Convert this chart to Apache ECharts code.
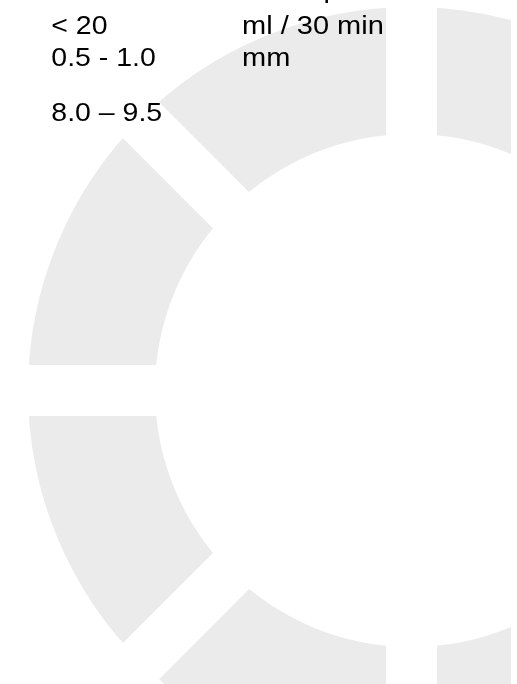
<!DOCTYPE html>
<html>
<head>
<meta charset="utf-8">
<script src="https://cdn.jsdelivr.net/npm/echarts@6/dist/echarts.min.js"></script>
<style>
  html, body { margin: 0; padding: 0; background: #fff; }
  #ring { width: 511px; height: 684px; }
</style>
</head>
<body>
<div id="ring"></div>
<script>
// ring segments (8 equal parts, gaps at every 45 deg)
const segments = ['s1', 's2', 's3', 's4', 's5', 's6', 's7', 's8']
const segmentValues = [1, 1, 1, 1, 1, 1, 1, 1]

// reference values and units
const values = ['< 20', '0.5 - 1.0', '8.0 – 9.5']
const units = ['ml / 30 min', 'mm', '']
const rowBaselines = [34.3, 66.6, 121]

const myChart = echarts.init(document.getElementById('ring'), null, { renderer: 'canvas' })

const textStyle = (text) => ({
  text: text,
  fontSize: 25,
  fontFamily: '"Liberation Sans", Arial, sans-serif',
  fill: '#000',
  verticalAlign: 'middle'
})
const texts = []
// line above, cut off by the top edge
texts.push({
  type: 'text',
  z: 10,
  x: 323.5,
  y: -8.5,
  scaleX: 1.15,
  style: textStyle('p')
})
values.forEach((v, i) => {
  texts.push({
    type: 'text',
    z: 10,
    x: 51.3,
    y: rowBaselines[i] - 7,
    scaleX: 1.14, // the source text is a bit wider than plain Arial
    style: textStyle(v)
  })
  if (units[i]) {
    texts.push({
      type: 'text',
      z: 10,
      x: 242,
      y: rowBaselines[i] - 7,
      scaleX: 1.16,
      style: textStyle(units[i])
    })
  }
})

const options = {
  animation: false,
  backgroundColor: '#fff',
  graphic: texts,
  series: [{
    type: 'pie',
    silent: true,
    z: 1,
    center: [411.5, 390.5],
    // white border of 51px cuts the parallel gaps, so radii are padded by half of it
    radius: [231, 409],
    startAngle: 90,
    clockwise: true,
    label: { show: false },
    labelLine: { show: false },
    emphasis: { disabled: true },
    itemStyle: {
      color: '#ebebeb',
      borderColor: '#fff',
      borderWidth: 51,
      borderJoin: 'miter'
    },
    data: segments.map((name, i) => ({ name: name, value: segmentValues[i] }))
  }]
}
myChart.setOption(options)
</script>
</body>
</html>
